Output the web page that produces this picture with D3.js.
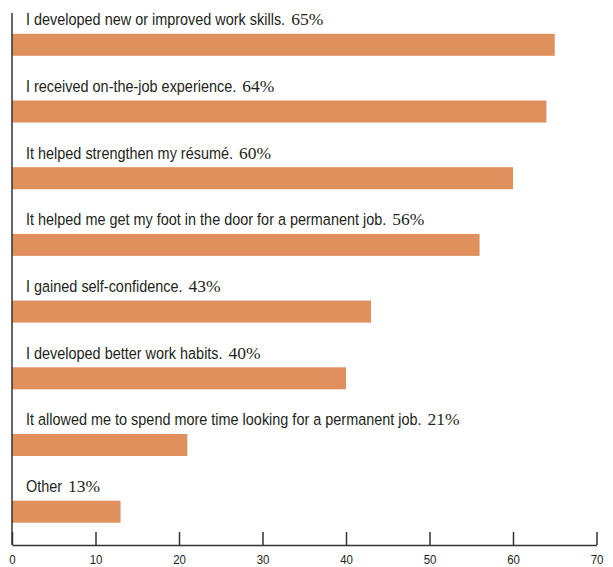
<!DOCTYPE html>
<html>
<head>
<meta charset="utf-8">
<script src="https://cdn.jsdelivr.net/npm/d3@7"></script>
<style>
  html, body { margin: 0; padding: 0; background: #fff; }
  svg { display: block; }
</style>
</head>
<body>
<svg id="chart" width="613" height="567"></svg>
<script>
const categories = [
  "I developed new or improved work skills.",
  "I received on-the-job experience.",
  "It helped strengthen my résumé.",
  "It helped me get my foot in the door for a permanent job.",
  "I gained self-confidence.",
  "I developed better work habits.",
  "It allowed me to spend more time looking for a permanent job.",
  "Other"
];
const values = [65, 64, 60, 56, 43, 40, 21, 13];
const tickValues = [0, 10, 20, 30, 40, 50, 60, 70];

const svg = d3.select("#chart");
const x = d3.scaleLinear().domain([0, 70]).range([12, 596.5]);
const y = d3.scaleBand().domain(categories).range([33.8, 522.7]).paddingInner(0.67).paddingOuter(0).align(0);

const axisY = 545;
const squeeze = 0.875;

// bars
svg.append("g").selectAll("rect").data(values).join("rect")
  .attr("x", x(0))
  .attr("y", (d, i) => y(categories[i]))
  .attr("width", d => x(d) - x(0))
  .attr("height", y.bandwidth())
  .attr("fill", "#df905d");

// labels
const groups = svg.append("g").selectAll("g").data(categories).join("g");
groups.each(function (d, i) {
  const g = d3.select(this);
  const by = y(d) - 8.5;
  const t = g.append("text")
    .attr("transform", `translate(26,${by}) scale(${squeeze},1)`)
    .attr("fill", "#231f20")
    .style("font-family", "'Liberation Sans', Arial, sans-serif")
    .style("font-size", "16.5px")
    .text(d);
  const w = t.node().getComputedTextLength() * squeeze;
  g.append("text")
    .attr("x", 26 + w + 6)
    .attr("y", by)
    .attr("fill", "#231f20")
    .style("font-family", "'Liberation Serif', 'Times New Roman', serif")
    .style("font-size", "17.5px")
    .text(values[i] + "%");
});

// left axis line
svg.append("line")
  .attr("x1", x(0)).attr("x2", x(0))
  .attr("y1", 13).attr("y2", axisY)
  .attr("stroke", "#333").attr("stroke-width", 1.5);

// bottom axis
const ax = svg.append("g")
  .attr("transform", `translate(0,${axisY})`)
  .call(d3.axisBottom(x).tickValues(tickValues).tickSizeInner(-13).tickSizeOuter(0).tickPadding(9));
ax.select(".domain").attr("stroke", "#333").attr("stroke-width", 1.5);
ax.selectAll(".tick line").attr("stroke", "#333").attr("stroke-width", 1.5);
ax.selectAll(".tick text")
  .attr("fill", "#231f20")
  .attr("transform", "scale(0.85,1)")
  .style("font-family", "'Liberation Sans', Arial, sans-serif")
  .style("font-size", "13.5px");
</script>
</body>
</html>
